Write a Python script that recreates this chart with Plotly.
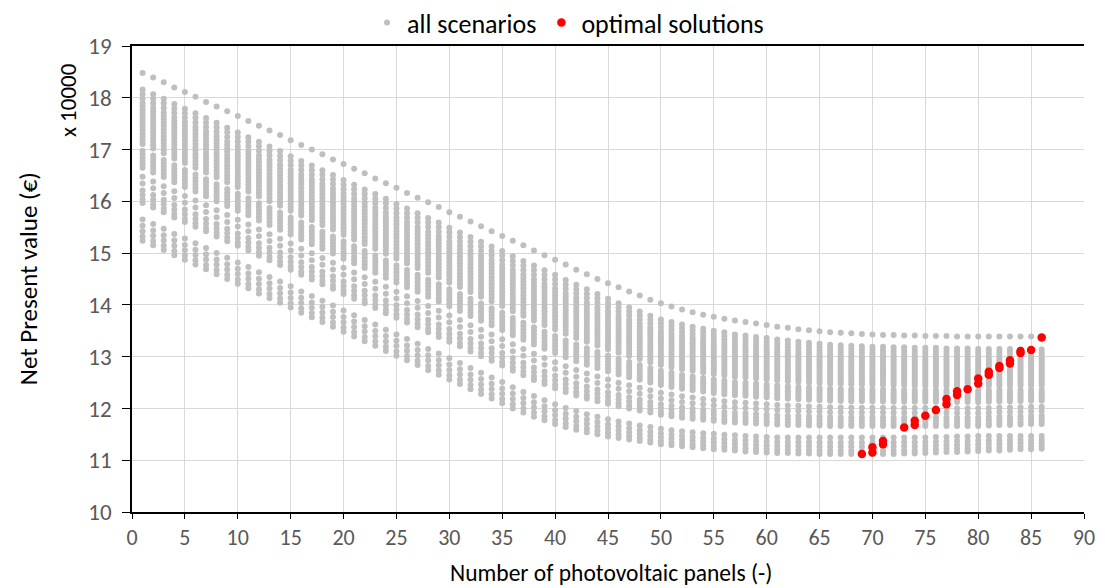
import plotly.graph_objects as go

# Number of photovoltaic panels for each column of scenarios
panels = list(range(1, 87))

# Envelope curves (NPV in units of 10000 EUR)
top_curve = [18.48, 18.39, 18.30, 18.20, 18.11, 18.02, 17.92, 17.83, 17.74, 17.65,
             17.55, 17.46, 17.37, 17.28, 17.18, 17.09, 17.00, 16.91, 16.81, 16.72,
             16.63, 16.54, 16.44, 16.35, 16.26, 16.16, 16.07, 15.98, 15.89, 15.79,
             15.70, 15.61, 15.52, 15.42, 15.33, 15.24, 15.15, 15.05, 14.96, 14.87,
             14.78, 14.68, 14.59, 14.50, 14.42, 14.34, 14.26, 14.18, 14.10, 14.03,
             13.97, 13.91, 13.86, 13.81, 13.77, 13.73, 13.70, 13.67, 13.64, 13.61,
             13.58, 13.56, 13.53, 13.51, 13.49, 13.47, 13.46, 13.45, 13.44, 13.43,
             13.42, 13.42, 13.41, 13.41, 13.40, 13.40, 13.40, 13.39, 13.39, 13.39,
             13.39, 13.39, 13.39, 13.39, 13.39, 13.39]

band_hi = [18.16, 18.07, 17.98, 17.88, 17.79, 17.70, 17.61, 17.52, 17.42, 17.33,
           17.24, 17.15, 17.06, 16.97, 16.87, 16.78, 16.69, 16.60, 16.51, 16.41,
           16.32, 16.23, 16.14, 16.05, 15.95, 15.86, 15.77, 15.68, 15.59, 15.49,
           15.40, 15.31, 15.22, 15.13, 15.04, 14.94, 14.85, 14.76, 14.67, 14.58,
           14.48, 14.39, 14.30, 14.21, 14.12, 14.03, 13.95, 13.87, 13.79, 13.72,
           13.67, 13.62, 13.58, 13.54, 13.50, 13.47, 13.43, 13.41, 13.38, 13.36,
           13.33, 13.31, 13.29, 13.27, 13.25, 13.23, 13.22, 13.21, 13.20, 13.19,
           13.19, 13.18, 13.18, 13.17, 13.17, 13.17, 13.16, 13.16, 13.16, 13.15,
           13.15, 13.15, 13.15, 13.14, 13.14, 13.14]

band_lo = [15.97, 15.88, 15.79, 15.69, 15.60, 15.51, 15.42, 15.32, 15.23, 15.14,
           15.05, 14.95, 14.86, 14.77, 14.68, 14.58, 14.49, 14.40, 14.31, 14.21,
           14.12, 14.03, 13.94, 13.84, 13.75, 13.66, 13.57, 13.47, 13.38, 13.29,
           13.20, 13.10, 13.01, 12.92, 12.83, 12.73, 12.64, 12.55, 12.47, 12.39,
           12.32, 12.25, 12.19, 12.14, 12.09, 12.04, 12.00, 11.96, 11.92, 11.88,
           11.85, 11.82, 11.80, 11.78, 11.76, 11.74, 11.73, 11.72, 11.71, 11.70,
           11.69, 11.68, 11.68, 11.67, 11.67, 11.66, 11.66, 11.66, 11.66, 11.66,
           11.66, 11.66, 11.66, 11.66, 11.66, 11.66, 11.66, 11.66, 11.66, 11.66,
           11.67, 11.68, 11.68, 11.69, 11.70, 11.70]

low_hi = [15.65, 15.56, 15.47, 15.37, 15.28, 15.19, 15.10, 15.00, 14.91, 14.82,
          14.73, 14.63, 14.54, 14.45, 14.36, 14.26, 14.17, 14.08, 13.99, 13.89,
          13.80, 13.71, 13.62, 13.52, 13.43, 13.34, 13.25, 13.15, 13.06, 12.97,
          12.88, 12.78, 12.69, 12.60, 12.51, 12.41, 12.32, 12.24, 12.16, 12.08,
          12.01, 11.95, 11.89, 11.84, 11.79, 11.75, 11.71, 11.67, 11.64, 11.61,
          11.58, 11.56, 11.54, 11.52, 11.51, 11.49, 11.48, 11.47, 11.46, 11.45,
          11.44, 11.44, 11.44, 11.44, 11.44, 11.44, 11.44, 11.44, 11.44, 11.44,
          11.44, 11.44, 11.44, 11.44, 11.44, 11.45, 11.45, 11.46, 11.46, 11.47,
          11.47, 11.47, 11.47, 11.47, 11.47, 11.47]

low_lo = [15.24, 15.15, 15.06, 14.96, 14.87, 14.78, 14.69, 14.59, 14.50, 14.41,
          14.32, 14.22, 14.13, 14.04, 13.95, 13.85, 13.76, 13.67, 13.58, 13.48,
          13.39, 13.30, 13.21, 13.11, 13.02, 12.93, 12.84, 12.74, 12.65, 12.56,
          12.47, 12.37, 12.28, 12.19, 12.10, 12.00, 11.92, 11.84, 11.77, 11.70,
          11.64, 11.59, 11.54, 11.50, 11.46, 11.43, 11.40, 11.37, 11.34, 11.31,
          11.29, 11.27, 11.25, 11.23, 11.21, 11.20, 11.19, 11.17, 11.16, 11.15,
          11.14, 11.14, 11.13, 11.13, 11.12, 11.12, 11.12, 11.12, 11.12, 11.12,
          11.12, 11.12, 11.13, 11.13, 11.14, 11.15, 11.16, 11.16, 11.17, 11.18,
          11.19, 11.19, 11.20, 11.21, 11.21, 11.22]

# Relative positions of the scenario dots inside the main band and the lower band
band_frac = [0.00, 0.04, 0.08, 0.12, 0.15, 0.18, 0.21, 0.24, 0.27, 0.30, 0.33,
             0.36, 0.39, 0.42, 0.45, 0.48, 0.54, 0.57, 0.60, 0.63, 0.66, 0.69,
             0.77, 0.83, 0.89, 0.93, 0.97, 1.00]
low_frac = [0.00, 0.30, 0.55, 0.80, 1.00]

# Optimal solutions
opt_x = [69, 70, 70, 71, 71, 73, 74, 74, 75, 76, 77, 77, 78, 78, 79, 80, 80,
         81, 81, 82, 82, 83, 83, 84, 84, 85, 86]
opt_y = [11.12, 11.15, 11.25, 11.31, 11.37, 11.63, 11.68, 11.76, 11.86, 11.97,
         12.08, 12.18, 12.26, 12.33, 12.37, 12.48, 12.58, 12.65, 12.71, 12.78,
         12.82, 12.87, 12.93, 13.07, 13.11, 13.13, 13.37]

all_x, all_y = [], []
for i, n in enumerate(panels):
    all_x.append(n)
    all_y.append(top_curve[i])
    for f in band_frac:
        all_x.append(n)
        all_y.append(band_hi[i] - f * (band_hi[i] - band_lo[i]))
    for f in low_frac:
        all_x.append(n)
        all_y.append(low_hi[i] - f * (low_hi[i] - low_lo[i]))

FONT = "Carlito, Lato, sans-serif"

fig = go.Figure()
fig.add_trace(go.Scatter(x=all_x, y=all_y, mode="markers", name="all scenarios",
                         marker=dict(color="#BFBFBF", size=6, line=dict(width=0))))
fig.add_trace(go.Scatter(x=opt_x, y=opt_y, mode="markers", name="optimal solutions",
                         marker=dict(color="#FF0000", size=8.5, line=dict(width=0))))

fig.update_layout(
    width=1097, height=580,
    margin=dict(l=124, r=21, t=38, b=76, autoexpand=False),
    paper_bgcolor="white", plot_bgcolor="white",
    font=dict(family=FONT, size=22, color="#595959"),
    showlegend=True,
    legend=dict(orientation="h", x=0.458, xanchor="center", y=1.05, yanchor="middle",
                font=dict(family=FONT, size=26, color="#000000"),
                bgcolor="rgba(0,0,0,0)", itemwidth=30, tracegroupgap=0),
    xaxis=dict(range=[0, 90], tick0=0, dtick=5, showgrid=True, gridcolor="#D9D9D9",
               gridwidth=1, showline=True, linecolor="#000000", linewidth=1.5,
               mirror=True, ticks="outside", ticklen=5, tickcolor="#000000",
               zeroline=False, automargin=False,
               tickfont=dict(family=FONT, size=22, color="#595959")),
    yaxis=dict(range=[10, 19], tick0=10, dtick=1, showgrid=True, gridcolor="#D9D9D9",
               gridwidth=1, showline=True, linecolor="#000000", linewidth=1.5,
               ticks="outside", ticklen=8, tickcolor="#000000", zeroline=False,
               automargin=False, ticklabelstandoff=6,
               tickfont=dict(family=FONT, size=23, color="#595959")),
    annotations=[
        dict(text="Number of photovoltaic panels (-)", xref="paper", yref="paper",
             x=0.503, y=-0.131, xanchor="center", yanchor="middle", showarrow=False,
             font=dict(family=FONT, size=23.5, color="#000000")),
        dict(text="Net Present value (€)", xref="paper", yref="paper",
             x=-0.109, y=0.5, xanchor="center", yanchor="middle", showarrow=False,
             textangle=-90, font=dict(family=FONT, size=25, color="#000000")),
        dict(text="x 10000", xref="paper", yref="paper",
             x=-0.0672, y=0.884, xanchor="center", yanchor="middle", showarrow=False,
             textangle=-90, font=dict(family=FONT, size=23, color="#000000")),
    ],
)

fig.write_html("out.html")
